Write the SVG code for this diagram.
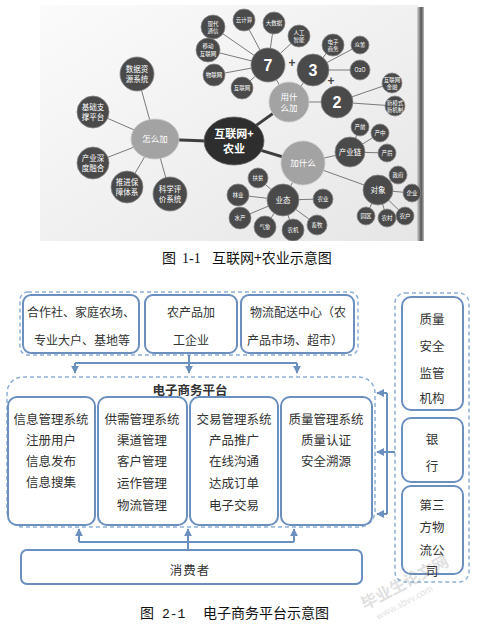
<svg xmlns="http://www.w3.org/2000/svg" width="480" height="625" viewBox="0 0 480 625">
<defs>
<linearGradient id="bg" x1="0" y1="0" x2="1" y2="1">
<stop offset="0" stop-color="#fbfbfb"/>
<stop offset="1" stop-color="#e6e6e6"/>
</linearGradient>
<linearGradient id="edge" x1="0" y1="0" x2="1" y2="0">
<stop offset="0" stop-color="#d8d8d8"/>
<stop offset="0.6" stop-color="#555"/>
<stop offset="1" stop-color="#bbb"/>
</linearGradient>
<marker id="ah" viewBox="0 0 10 10" refX="9" refY="5" markerWidth="4" markerHeight="4" orient="auto" markerUnits="strokeWidth">
<path d="M0,0 L10,5 L0,10 z" fill="#6b8fbf"/>
</marker>
<style>
.dk{fill:#4a4a4a;stroke:#888;stroke-width:0.8}
.lt{fill:#a3a3a3;stroke:#c8c8c8;stroke-width:0.8}
.ct{fill:#2e2e2e;stroke:#666;stroke-width:0.8}
.mt{font-family:"Noto Sans CJK SC","Liberation Sans",sans-serif;fill:#fff;text-anchor:middle}
.s5{font-size:5.5px}
.s7{font-size:7.5px}
.s8{font-size:8.5px}
.nb{font-family:"Liberation Sans",sans-serif;font-weight:bold;font-size:16px;fill:#fff;text-anchor:middle}
.ml{stroke:#7a7a7a;stroke-width:1;fill:none}
.mk{stroke:#3e3e3e;stroke-width:3;fill:none}
.bx{fill:#fff;stroke:#6b8fbf;stroke-width:2}
.ds{fill:none;stroke:#8fb0d8;stroke-width:1.5;stroke-dasharray:4 3}
.tx{font-family:"Noto Sans CJK SC","Liberation Serif",serif;fill:#333;text-anchor:middle;font-size:12.5px}
.t12{font-size:12px}
.cn{stroke:#6b8fbf;stroke-width:2;fill:none}
.cap{font-family:"Noto Sans CJK SC","Liberation Sans",sans-serif;fill:#111;font-size:14px}
</style>
</defs>
<rect width="480" height="625" fill="#fff"/>

<!-- photo background of mind map -->
<rect x="40" y="5" width="378" height="236" fill="url(#bg)"/>
<rect x="417" y="7" width="7" height="234" fill="url(#edge)"/>

<g id="connectors-mindmap">
<path class="mk" d="M233 142 L155 139 M233 142 L289 102 M233 142 L303 163"/>
<path class="ml" d="M155 139 L137 74 M155 139 L93 112 M155 139 L93 163 M155 139 L127 187 M155 139 L170 193"/>
<path class="ml" d="M289 102 L268 65 M289 102 L313 70 M289 102 L337 102"/>
<path class="ml" d="M268 65 L213 27 M268 65 L244 20 M268 65 L274 23 M268 65 L299 36 M268 65 L208 50 M268 65 L214 75 M268 65 L242 88"/>
<path class="ml" d="M313 70 L333 45 M313 70 L360 45 M313 70 L360 70"/>
<path class="ml" d="M337 102 L392 83 M337 102 L395 106"/>
<path class="ml" d="M303 163 L350 152 M303 163 L378 190 M303 163 L283 200"/>
<path class="ml" d="M350 152 L360 127 M350 152 L380 133 M350 152 L387 153"/>
<path class="ml" d="M378 190 L398 175 M378 190 L412 193 M378 190 L405 216 M378 190 L387 218 M378 190 L366 216"/>
<path class="ml" d="M283 200 L258 178 M283 200 L238 195 M283 200 L240 218 M283 200 L265 227 M283 200 L293 230 M283 200 L317 225 M283 200 L323 199"/>
</g>

<g id="n-center"><ellipse class="ct" cx="234" cy="141" rx="30" ry="24"/><text class="mt" x="234" y="138" font-size="11" font-weight="bold">互联网+</text><text class="mt" x="234" y="153" font-size="11" font-weight="bold">农业</text></g>
<g id="n-yong"><circle class="lt" cx="289" cy="102" r="20"/><text class="mt s8" x="289" y="100">用什</text><text class="mt s8" x="289" y="111">么加</text></g>
<g id="n-zen"><ellipse class="lt" cx="155" cy="139" rx="24" ry="20"/><text class="mt s8" x="155" y="142">怎么加</text></g>
<g id="n-jia"><circle class="lt" cx="303" cy="163" r="22"/><text class="mt s8" x="303" y="166">加什么</text></g>

<g id="n-7"><circle class="dk" cx="268" cy="65" r="17"/><text class="nb" x="268" y="71">7</text></g>
<g id="n-3"><circle class="dk" cx="313" cy="70" r="16"/><text class="nb" x="313" y="76">3</text></g>
<g id="n-2"><circle class="dk" cx="337" cy="102" r="16"/><text class="nb" x="337" y="108">2</text></g>
<text x="292" y="67" font-family="Liberation Sans,sans-serif" font-size="12" font-weight="bold" fill="#444" text-anchor="middle">+</text>
<text x="331" y="85" font-family="Liberation Sans,sans-serif" font-size="12" font-weight="bold" fill="#444" text-anchor="middle">+</text>

<g id="n-xdtx"><circle class="dk" cx="213" cy="27" r="12"/><text class="mt s5" x="213" y="26">现代</text><text class="mt s5" x="213" y="33">通信</text></g>
<g id="n-yjs"><circle class="dk" cx="244" cy="20" r="11"/><text class="mt s5" x="244" y="22">云计算</text></g>
<g id="n-dsj"><circle class="dk" cx="274" cy="23" r="11"/><text class="mt s5" x="274" y="25">大数据</text></g>
<g id="n-rgzn"><circle class="dk" cx="299" cy="36" r="11"/><text class="mt s5" x="299" y="35">人工</text><text class="mt s5" x="299" y="42">智能</text></g>
<g id="n-ydhlw"><circle class="dk" cx="208" cy="50" r="12"/><text class="mt s5" x="208" y="48">移动</text><text class="mt s5" x="208" y="56">互联网</text></g>
<g id="n-wlw"><circle class="dk" cx="214" cy="75" r="11"/><text class="mt s5" x="214" y="77">物联网</text></g>
<g id="n-hlw"><circle class="dk" cx="242" cy="88" r="11"/><text class="mt s5" x="242" y="90">互联网</text></g>
<g id="n-dzsw"><circle class="dk" cx="333" cy="45" r="11"/><text class="mt s5" x="333" y="44">电子</text><text class="mt s5" x="333" y="51">商务</text></g>
<g id="n-zc"><circle class="dk" cx="360" cy="45" r="9"/><text class="mt s5" x="360" y="47">众筹</text></g>
<g id="n-o2o"><circle class="dk" cx="360" cy="70" r="10"/><text class="mt s5" x="360" y="72">O2O</text></g>
<g id="n-hljr"><circle class="dk" cx="392" cy="83" r="10"/><text class="mt s5" x="392" y="82">互联网</text><text class="mt s5" x="392" y="89">金融</text></g>
<g id="n-xms"><circle class="dk" cx="395" cy="106" r="10"/><text class="mt s5" x="395" y="105">新模式</text><text class="mt s5" x="395" y="112">新机制</text></g>

<g id="n-sjzy"><circle class="dk" cx="137" cy="74" r="17"/><text class="mt s7" x="137" y="72">数据资</text><text class="mt s7" x="137" y="82">源系统</text></g>
<g id="n-jczc"><circle class="dk" cx="93" cy="112" r="16"/><text class="mt s7" x="93" y="110">基础支</text><text class="mt s7" x="93" y="120">撑平台</text></g>
<g id="n-cysd"><circle class="dk" cx="93" cy="163" r="16"/><text class="mt s7" x="93" y="161">产业深</text><text class="mt s7" x="93" y="171">度融合</text></g>
<g id="n-tjbz"><circle class="dk" cx="127" cy="187" r="16"/><text class="mt s7" x="127" y="185">推进保</text><text class="mt s7" x="127" y="195">障体系</text></g>
<g id="n-kxpj"><circle class="dk" cx="170" cy="194" r="17"/><text class="mt s7" x="170" y="192">科学评</text><text class="mt s7" x="170" y="202">价系统</text></g>

<g id="n-cyl"><circle class="dk" cx="350" cy="152" r="15"/><text class="mt s7" x="350" y="155">产业链</text></g>
<g id="n-cq"><circle class="dk" cx="360" cy="127" r="9"/><text class="mt s5" x="360" y="129">产前</text></g>
<g id="n-cz"><circle class="dk" cx="380" cy="133" r="9"/><text class="mt s5" x="380" y="135">产中</text></g>
<g id="n-ch"><circle class="dk" cx="387" cy="153" r="9"/><text class="mt s5" x="387" y="155">产后</text></g>
<g id="n-dx"><circle class="dk" cx="378" cy="190" r="15"/><text class="mt s7" x="378" y="193">对象</text></g>
<g id="n-zf"><circle class="dk" cx="398" cy="175" r="9"/><text class="mt s5" x="398" y="177">政府</text></g>
<g id="n-qy"><circle class="dk" cx="412" cy="193" r="9"/><text class="mt s5" x="412" y="195">企业</text></g>
<g id="n-nh"><circle class="dk" cx="405" cy="216" r="9"/><text class="mt s5" x="405" y="218">农户</text></g>
<g id="n-nc"><circle class="dk" cx="387" cy="218" r="9"/><text class="mt s5" x="387" y="220">农村</text></g>
<g id="n-yq"><circle class="dk" cx="366" cy="216" r="9"/><text class="mt s5" x="366" y="218">园区</text></g>
<g id="n-yt"><circle class="dk" cx="283" cy="200" r="16"/><text class="mt s7" x="283" y="203">业态</text></g>
<g id="n-fp"><circle class="dk" cx="258" cy="178" r="10"/><text class="mt s5" x="258" y="180">扶贫</text></g>
<g id="n-ly"><circle class="dk" cx="238" cy="195" r="11"/><text class="mt s5" x="238" y="197">林业</text></g>
<g id="n-sc"><circle class="dk" cx="240" cy="218" r="11"/><text class="mt s5" x="240" y="220">水产</text></g>
<g id="n-qx"><circle class="dk" cx="265" cy="227" r="11"/><text class="mt s5" x="265" y="229">气象</text></g>
<g id="n-nj"><circle class="dk" cx="293" cy="230" r="11"/><text class="mt s5" x="293" y="232">农机</text></g>
<g id="n-xm"><circle class="dk" cx="317" cy="225" r="10"/><text class="mt s5" x="317" y="227">畜牧</text></g>
<g id="n-ny"><circle class="dk" cx="323" cy="199" r="10"/><text class="mt s5" x="323" y="201">农业</text></g>

<rect x="40" y="241" width="390" height="8" fill="#fff"/>

<text class="cap" y="263"><tspan x="162">图</tspan><tspan x="182" font-family="Liberation Serif,serif">1-1</tspan><tspan x="212">互联网+农业示意图</tspan></text>

<!-- lower diagram -->
<g id="g-top">
<rect class="ds" x="20" y="292" width="338" height="63" rx="8"/>
</g>
<g id="b-hzs"><rect class="bx" x="23" y="295" width="116" height="58" rx="8"/><text class="tx t12" x="81" y="317">合作社、家庭农场、</text><text class="tx t12" x="82" y="345">专业大户、基地等</text></g>
<g id="b-ncp"><rect class="bx" x="145" y="295" width="92" height="58" rx="8"/><text class="tx t12" x="191" y="317">农产品加</text><text class="tx t12" x="191" y="345">工企业</text></g>
<g id="b-wl"><rect class="bx" x="241" y="295" width="113" height="58" rx="8"/><text class="tx t12" x="298" y="317">物流配送中心（农</text><text class="tx t12" x="295" y="345">产品市场、超市）</text></g>

<g id="g-right"><rect class="ds" x="395" y="293" width="74" height="289" rx="10"/></g>
<g id="b-zljg"><rect class="bx" x="402" y="297" width="61" height="113" rx="9"/><text class="tx" x="432" y="324">质量</text><text class="tx" x="432" y="351">安全</text><text class="tx" x="432" y="378">监管</text><text class="tx" x="432" y="403">机构</text></g>
<g id="b-yh"><rect class="bx" x="402" y="418" width="61" height="64" rx="9"/><text class="tx" x="432" y="444">银</text><text class="tx" x="432" y="471">行</text></g>
<g id="b-wlgs"><rect class="bx" x="402" y="486" width="61" height="88" rx="9"/><text class="tx" x="432" y="510">第三</text><text class="tx" x="432" y="532">方物</text><text class="tx" x="432" y="555">流公</text><text class="tx" x="432" y="576">司</text></g>

<g id="g-platform">
<rect class="ds" x="7" y="377" width="368" height="150" rx="16"/>
<text class="tx" x="190" y="395" font-weight="bold" font-size="13px" fill="#222">电子商务平台</text>
</g>
<g id="b-xx"><rect class="bx" x="8" y="397" width="87" height="128" rx="9"/><text class="tx" x="51" y="424">信息管理系统</text><text class="tx" x="51" y="445">注册用户</text><text class="tx" x="51" y="466">信息发布</text><text class="tx" x="51" y="487">信息搜集</text></g>
<g id="b-gx"><rect class="bx" x="98" y="397" width="89" height="128" rx="9"/><text class="tx" x="142" y="424">供需管理系统</text><text class="tx" x="142" y="445">渠道管理</text><text class="tx" x="142" y="466">客户管理</text><text class="tx" x="142" y="488">运作管理</text><text class="tx" x="142" y="510">物流管理</text></g>
<g id="b-jy"><rect class="bx" x="190" y="397" width="88" height="128" rx="9"/><text class="tx" x="234" y="424">交易管理系统</text><text class="tx" x="234" y="445">产品推广</text><text class="tx" x="234" y="466">在线沟通</text><text class="tx" x="234" y="488">达成订单</text><text class="tx" x="234" y="510">电子交易</text></g>
<g id="b-zl"><rect class="bx" x="281" y="397" width="91" height="128" rx="9"/><text class="tx" x="326" y="424">质量管理系统</text><text class="tx" x="326" y="445">质量认证</text><text class="tx" x="326" y="466">安全溯源</text></g>

<g id="b-xfz"><rect class="bx" x="21" y="550" width="341" height="34" rx="6"/><text class="tx" x="190" y="575" font-size="14px" letter-spacing="1">消费者</text></g>

<g id="connectors">
<path class="cn" d="M75 363 H297"/>
<path class="cn" d="M75 363 V373" marker-end="url(#ah)"/>
<path class="cn" d="M189 355 V373" marker-end="url(#ah)"/>
<path class="cn" d="M297 363 V373" marker-end="url(#ah)"/>
<path class="cn" d="M387 393 V514"/>
<path class="cn" d="M387 393 H377" marker-end="url(#ah)"/>
<path class="cn" d="M395 452 H377" marker-end="url(#ah)"/>
<path class="cn" d="M387 514 H377" marker-end="url(#ah)"/>
<path class="cn" d="M79 542 H294"/>
<path class="cn" d="M79 542 V529" marker-end="url(#ah)"/>
<path class="cn" d="M188 550 V529" marker-end="url(#ah)"/>
<path class="cn" d="M294 542 V529" marker-end="url(#ah)"/>
</g>

<g id="watermark" opacity="0.25" font-family="Noto Sans CJK SC,sans-serif" fill="#888">
<text x="0" y="0" font-size="16" font-weight="bold" transform="translate(365,610) rotate(-28)">毕业生论文网</text>
<text x="0" y="0" font-size="9" transform="translate(378,620) rotate(-28)">www.sbvv.com</text>
</g>

<text class="cap" y="618"><tspan x="140">图</tspan><tspan x="162" font-family="Liberation Mono,monospace" font-size="13">2-1</tspan><tspan x="203">电子商务平台示意图</tspan></text>
</svg>
